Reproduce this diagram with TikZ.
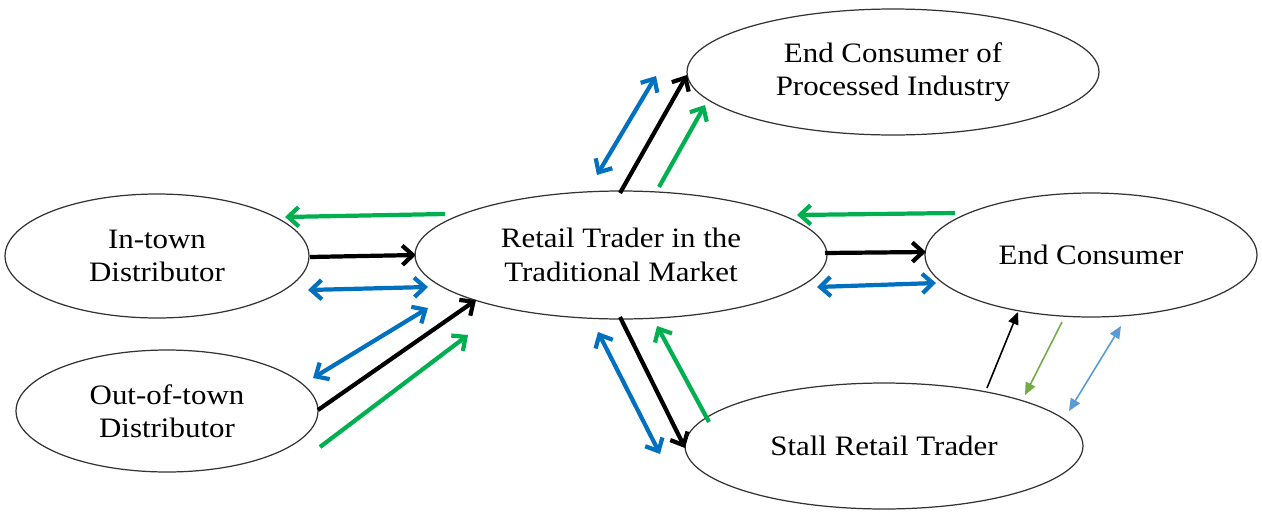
\documentclass[tikz,border=0pt]{standalone}
\usepackage{fontspec}
\setmainfont{Liberation Serif}[FakeStretch=1.1]
\usetikzlibrary{shapes.geometric,arrows.meta}
\definecolor{cblue}{HTML}{0070C0}
\definecolor{cgreen}{HTML}{00B050}
\definecolor{lgreen}{HTML}{70AD47}
\definecolor{lblue}{HTML}{5B9BD5}
\tikzset{
  ell/.style={ellipse,draw=black!80,line width=0.7pt,inner sep=0pt,align=center,font=\fontsize{16}{19}\selectfont},
  thick arr/.style={line width=2.4pt,-{Straight Barb[length=6pt,width=11pt]}},
  thick dbl/.style={line width=2.4pt,{Straight Barb[length=6pt,width=11pt]}-{Straight Barb[length=6pt,width=11pt]}},
  thin arr/.style={line width=0.9pt,-{Triangle[length=7pt,width=6pt]}},
  thin dbl/.style={line width=0.9pt,{Triangle[length=7pt,width=6pt]}-{Triangle[length=7pt,width=6pt]}},
}
\begin{document}
\begin{tikzpicture}[x=0.02cm,y=-0.02cm]
\useasboundingbox (0,0) rectangle (1262,511);
% nodes
\node[ell,minimum width=8.24cm,minimum height=2.52cm] (ecp) at (893,72) {End Consumer of\\Processed Industry};
\node[ell,minimum width=6.08cm,minimum height=2.48cm] (intown) at (157,256) {In-town\\Distributor};
\node[ell,minimum width=8.24cm,minimum height=2.56cm] (retail) at (621,255) {Retail Trader in the\\Traditional Market};
\node[ell,minimum width=6.64cm,minimum height=2.48cm] (endc) at (1091,255) {End Consumer};
\node[ell,minimum width=6.04cm,minimum height=2.44cm] (out) at (167,411) {Out-of-town\\Distributor};
\node[ell,minimum width=7.96cm,minimum height=2.52cm] (stall) at (884,446) {Stall Retail Trader};
% endpoints
\coordinate (b1s) at (597,175); \coordinate (b1e) at (656,76);
\coordinate (k1s) at (620,193); \coordinate (k1e) at (687,75);
\coordinate (g1s) at (659,187); \coordinate (g1e) at (705,105);
\coordinate (g2s) at (445,214); \coordinate (g2e) at (285,217);
\coordinate (k2s) at (310,257); \coordinate (k2e) at (416,255);
\coordinate (b2s) at (308,290); \coordinate (b2e) at (428,287);
\coordinate (b3s) at (313,378); \coordinate (b3e) at (428,308);
\coordinate (k3s) at (318,410); \coordinate (k3e) at (476,300);
\coordinate (g3s) at (320,447); \coordinate (g3e) at (468,335);
\coordinate (k4s) at (620,317); \coordinate (k4e) at (685,448);
\coordinate (b4s) at (598,332); \coordinate (b4e) at (660,454);
\coordinate (g4s) at (709,422); \coordinate (g4e) at (657,326);
\coordinate (g5s) at (955,213); \coordinate (g5e) at (797,215);
\coordinate (k5s) at (825,253); \coordinate (k5e) at (926,252);
\coordinate (b5s) at (817,287); \coordinate (b5e) at (936,283);
\coordinate (k6s) at (987,388); \coordinate (k6e) at (1018,312);
\coordinate (g6s) at (1062,322); \coordinate (g6e) at (1025,395);
\coordinate (b6s) at (1069,411); \coordinate (b6e) at (1121,326);
% connectors
\draw[thick dbl,cblue] (b1s) -- (b1e);
\draw[thick arr,black] (k1s) -- (k1e);
\draw[thick arr,cgreen] (g1s) -- (g1e);
\draw[thick arr,cgreen] (g2s) -- (g2e);
\draw[thick arr,black] (k2s) -- (k2e);
\draw[thick dbl,cblue] (b2s) -- (b2e);
\draw[thick dbl,cblue] (b3s) -- (b3e);
\draw[thick arr,black] (k3s) -- (k3e);
\draw[thick arr,cgreen] (g3s) -- (g3e);
\draw[thick arr,black] (k4s) -- (k4e);
\draw[thick dbl,cblue] (b4s) -- (b4e);
\draw[thick arr,cgreen] (g4s) -- (g4e);
\draw[thick arr,cgreen] (g5s) -- (g5e);
\draw[thick arr,black] (k5s) -- (k5e);
\draw[thick dbl,cblue] (b5s) -- (b5e);
\draw[thin arr,black] (k6s) -- (k6e);
\draw[thin arr,lgreen] (g6s) -- (g6e);
\draw[thin dbl,lblue] (b6s) -- (b6e);
\end{tikzpicture}
\end{document}
